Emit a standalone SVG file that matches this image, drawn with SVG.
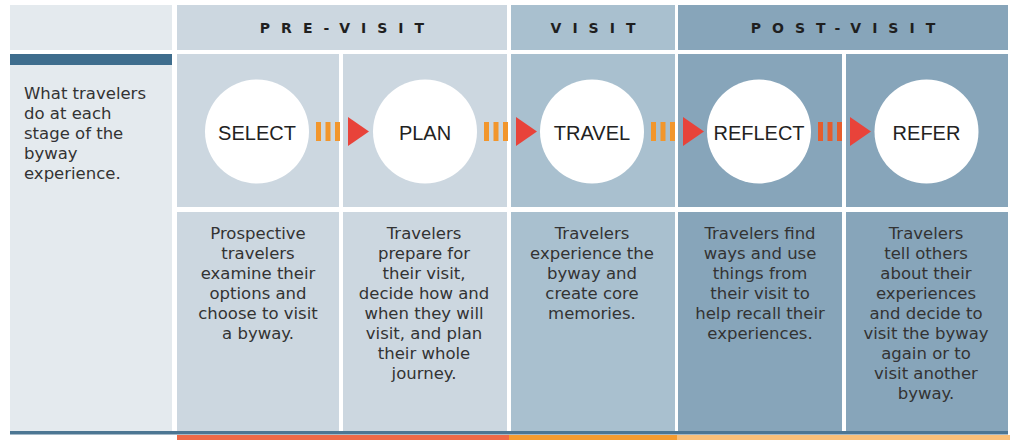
<svg xmlns="http://www.w3.org/2000/svg" width="1010" height="440" viewBox="0 0 1010 440">
  <style>
    .side { fill: #e4eaee; }
    .pre { fill: #ccd7e0; }
    .vis { fill: #a9c0cf; }
    .post { fill: #87a5ba; }
    .phase { font-family: "DejaVu Sans", Verdana, sans-serif; font-weight: bold; font-size: 14px; letter-spacing: 11px; fill: #1f1f1f; text-anchor: middle; }
    .body { font-family: "DejaVu Sans", Verdana, sans-serif; font-size: 16.5px; fill: #333333; text-anchor: middle; }
    .intro { font-family: "DejaVu Sans", Verdana, sans-serif; font-size: 16.5px; fill: #333333; }
    .bubble { fill: #ffffff; }
    .label { font-family: "Liberation Sans", Arial, sans-serif; font-size: 20px; fill: #222222; text-anchor: middle; }
    .bar { fill: #f2962c; }
    .bar.late { fill: #e55d2d; }
    .tip { fill: #e8433a; }
  </style>

  <rect width="1010" height="440" fill="#ffffff"/>

  <!-- left legend column -->
  <g id="legend">
    <rect class="side" x="10" y="5" width="162" height="45"/>
    <rect class="side" x="10" y="54" width="162" height="377"/>
    <rect x="10" y="54" width="162" height="11" fill="#3e6d8d"/>
    <text class="intro" x="24" y="99">What travelers</text>
    <text class="intro" x="24" y="119">do at each</text>
    <text class="intro" x="24" y="139">stage of the</text>
    <text class="intro" x="24" y="159">byway</text>
    <text class="intro" x="24" y="179">experience.</text>
  </g>

  <!-- phase headers -->
  <g id="phase-pre">
    <rect class="pre" x="177" y="5" width="330" height="45"/>
    <text class="phase" x="347.5" y="33">PRE-VISIT</text>
  </g>
  <g id="phase-visit">
    <rect class="vis" x="511" y="5" width="164" height="45"/>
    <text class="phase" x="598.5" y="33">VISIT</text>
  </g>
  <g id="phase-post">
    <rect class="post" x="678" y="5" width="330" height="45"/>
    <text class="phase" x="848.5" y="33">POST-VISIT</text>
  </g>

  <!-- stage: select -->
  <g id="stage-select">
    <rect class="pre" x="177" y="54" width="162" height="153"/>
    <rect class="pre" x="177" y="212" width="162" height="219"/>
    <circle class="bubble" cx="257" cy="131.5" r="52"/>
    <text class="label" x="257" y="139.5">SELECT</text>
    <text class="body" x="258" y="239">Prospective</text>
    <text class="body" x="258" y="259">travelers</text>
    <text class="body" x="258" y="279">examine their</text>
    <text class="body" x="258" y="299">options and</text>
    <text class="body" x="258" y="319">choose to visit</text>
    <text class="body" x="258" y="339">a byway.</text>
  </g>

  <!-- stage: plan -->
  <g id="stage-plan">
    <rect class="pre" x="343" y="54" width="164" height="153"/>
    <rect class="pre" x="343" y="212" width="164" height="219"/>
    <circle class="bubble" cx="425" cy="131.5" r="52"/>
    <text class="label" x="425" y="139.5">PLAN</text>
    <text class="body" x="424" y="239">Travelers</text>
    <text class="body" x="424" y="259">prepare for</text>
    <text class="body" x="424" y="279">their visit,</text>
    <text class="body" x="424" y="299">decide how and</text>
    <text class="body" x="424" y="319">when they will</text>
    <text class="body" x="424" y="339">visit, and plan</text>
    <text class="body" x="424" y="359">their whole</text>
    <text class="body" x="424" y="379">journey.</text>
  </g>

  <!-- stage: travel -->
  <g id="stage-travel">
    <rect class="vis" x="511" y="54" width="164" height="153"/>
    <rect class="vis" x="511" y="212" width="164" height="219"/>
    <circle class="bubble" cx="592" cy="131.5" r="52"/>
    <text class="label" x="592" y="139.5">TRAVEL</text>
    <text class="body" x="592" y="239">Travelers</text>
    <text class="body" x="592" y="259">experience the</text>
    <text class="body" x="592" y="279">byway and</text>
    <text class="body" x="592" y="299">create core</text>
    <text class="body" x="592" y="319">memories.</text>
  </g>

  <!-- stage: reflect -->
  <g id="stage-reflect">
    <rect class="post" x="678" y="54" width="164" height="153"/>
    <rect class="post" x="678" y="212" width="164" height="219"/>
    <circle class="bubble" cx="759" cy="131.5" r="52"/>
    <text class="label" x="759" y="139.5">REFLECT</text>
    <text class="body" x="760" y="239">Travelers find</text>
    <text class="body" x="760" y="259">ways and use</text>
    <text class="body" x="760" y="279">things from</text>
    <text class="body" x="760" y="299">their visit to</text>
    <text class="body" x="760" y="319">help recall their</text>
    <text class="body" x="760" y="339">experiences.</text>
  </g>

  <!-- stage: refer -->
  <g id="stage-refer">
    <rect class="post" x="846" y="54" width="162" height="153"/>
    <rect class="post" x="846" y="212" width="162" height="219"/>
    <circle class="bubble" cx="926.5" cy="131.5" r="52"/>
    <text class="label" x="926.5" y="139.5">REFER</text>
    <text class="body" x="926" y="239">Travelers</text>
    <text class="body" x="926" y="259">tell others</text>
    <text class="body" x="926" y="279">about their</text>
    <text class="body" x="926" y="299">experiences</text>
    <text class="body" x="926" y="319">and decide to</text>
    <text class="body" x="926" y="339">visit the byway</text>
    <text class="body" x="926" y="359">again or to</text>
    <text class="body" x="926" y="379">visit another</text>
    <text class="body" x="926" y="399">byway.</text>
  </g>

  <!-- dashed arrows between stages -->
  <defs>
    <g id="flow">
      <rect x="0" y="122" width="5" height="19"/>
      <rect x="9.5" y="122" width="5" height="19"/>
      <rect x="19" y="122" width="5" height="19"/>
      <polygon class="tip" points="32,117 53,131.5 32,146"/>
    </g>
  </defs>
  <g id="connectors">
    <use href="#flow" class="bar" x="316"/>
    <use href="#flow" class="bar" x="484"/>
    <use href="#flow" class="bar" x="651"/>
    <use href="#flow" class="bar late" x="818"/>
  </g>

  <!-- base rule and phase colour strip -->
  <g id="footer">
    <rect x="10" y="431" width="998" height="3.5" fill="#4c7693"/>
    <rect x="177" y="435" width="332" height="5" fill="#ee6a48"/>
    <rect x="509" y="435" width="168" height="5" fill="#f59c30"/>
    <rect x="677" y="435" width="333" height="5" fill="#f9c07a"/>
  </g>
</svg>
